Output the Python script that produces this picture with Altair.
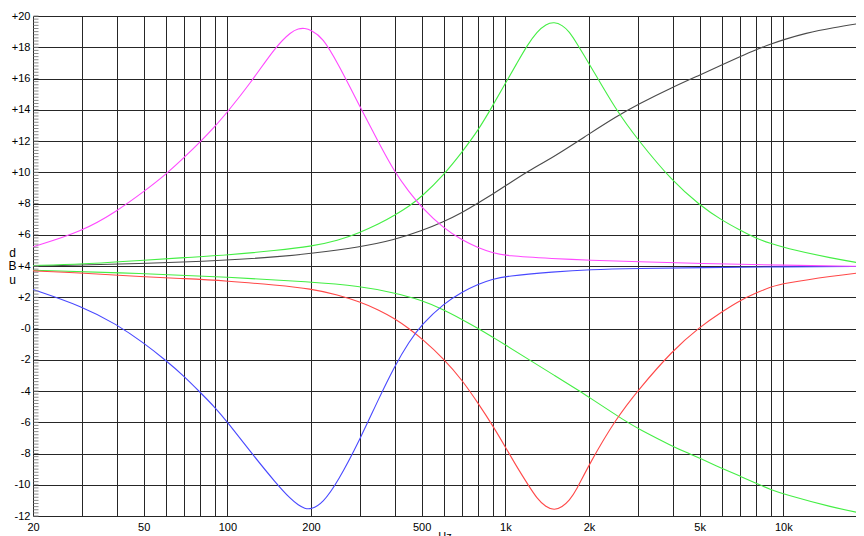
import altair as alt
import pandas as pd

# ---- curve readings (frequency in Hz, level in dBu) ----
MAGENTA_F = [20, 30, 40, 50, 60, 70, 80, 90, 100, 120, 150, 170, 180, 190, 200, 220, 250,
             300, 350, 400, 450, 500, 600, 700, 800, 900, 1000, 1500, 2000, 3000, 5000,
             10000, 20000]
MAGENTA_V = [5.23, 6.2, 7.5, 8.75, 9.85, 10.95, 11.95, 12.9, 13.85, 15.6, 18.1, 19.0, 19.2,
             19.23, 19.1, 18.65, 16.97, 14.2, 11.9, 10.0, 8.75, 7.75, 6.4, 5.65, 5.15, 4.85,
             4.65, 4.47, 4.37, 4.27, 4.16, 4.05, 3.97]

BLUE_F = MAGENTA_F
BLUE_V = [2.5, 1.43, 0.27, -0.92, -2.03, -3.06, -4.1, -5.02, -5.98, -7.8, -9.93, -10.96,
          -11.3, -11.53, -11.58, -11.2, -9.8, -7.1, -4.5, -2.4, -0.85, 0.25, 1.6, 2.34, 2.85,
          3.15, 3.35, 3.63, 3.77, 3.84, 3.9, 3.95, 3.97]

GREEN_PEAK_F = [20, 30, 50, 70, 100, 150, 200, 250, 300, 350, 400, 450, 500, 600, 700, 800,
                900, 1000, 1100, 1200, 1300, 1400, 1500, 1600, 1700, 1800, 2000, 2500, 3000,
                4000, 5000, 6000, 7000, 8000, 9000, 10000, 15000, 20000]
GREEN_PEAK_V = [4.03, 4.12, 4.37, 4.54, 4.69, 5.0, 5.25, 5.62, 6.15, 6.68, 7.25, 7.82, 8.43,
                9.82, 11.31, 12.7, 14.25, 15.69, 16.97, 18.14, 19.0, 19.49, 19.62, 19.42,
                19.0, 18.3, 16.97, 13.98, 12.06, 9.39, 7.9, 6.93, 6.29, 5.76, 5.44, 5.18,
                4.48, 4.12]

RED_F = GREEN_PEAK_F
RED_V = [3.69, 3.56, 3.3, 3.2, 3.05, 2.77, 2.55, 2.15, 1.7, 1.2, 0.63, 0.0, -0.64, -1.92,
         -3.31, -4.81, -6.2, -7.58, -8.86, -9.93, -10.89, -11.43, -11.64, -11.43, -11.0,
         -10.36, -8.7, -5.77, -3.95, -1.39, 0.1, 1.06, 1.81, 2.28, 2.66, 2.88, 3.37, 3.62]

BLACK_F = [20, 50, 100, 150, 200, 300, 400, 500, 600, 700, 800, 900, 1000, 1186, 1500,
           2000, 2500, 3000, 4000, 5000, 6000, 7000, 8000, 9000, 10000, 12000, 15000, 20000]
BLACK_V = [3.99, 4.15, 4.37, 4.58, 4.8, 5.2, 5.68, 6.25, 6.83, 7.42, 8.04, 8.6, 9.12, 10.0,
           11.0, 12.45, 13.55, 14.35, 15.45, 16.22, 16.86, 17.4, 17.85, 18.2, 18.48, 18.9,
           19.25, 19.6]

GREEN_SHELF_F = [20, 50, 100, 200, 300, 400, 500, 600, 700, 800, 900, 1000, 1218, 1500,
                 1850, 2000, 2740, 3000, 4000, 4570, 5000, 6000, 7000, 8170, 9000, 10000,
                 15000, 20000]
GREEN_SHELF_V = [3.73, 3.52, 3.3, 2.98, 2.71, 2.28, 1.81, 1.21, 0.57, 0.0, -0.55, -1.05,
                 -2.0, -3.0, -4.0, -4.4, -6.0, -6.4, -7.55, -8.0, -8.3, -8.95, -9.45, -10.0,
                 -10.3, -10.6, -11.45, -11.9]

SERIES_NAMES = ["black", "green_shelf", "red", "blue", "green_peak", "magenta"]
SERIES_F = [BLACK_F, GREEN_SHELF_F, RED_F, BLUE_F, GREEN_PEAK_F, MAGENTA_F]
SERIES_V = [BLACK_V, GREEN_SHELF_V, RED_V, BLUE_V, GREEN_PEAK_V, MAGENTA_V]
SERIES_COLORS = ["#4a4a4a", "#44ee44", "#ff4848", "#4848ff", "#44ee44", "#ff48ff"]

# ---- axes ----
X_MIN, X_MAX = 20, 18250          # visible part of the 20 Hz .. 20 kHz axis
GRID_X = [20, 30, 40, 50, 60, 70, 80, 90, 100, 200, 300, 400, 500, 600, 700, 800, 900,
          1000, 2000, 3000, 4000, 5000, 6000, 7000, 8000, 9000, 10000]
LABEL_X = [20, 50, 100, 200, 500, 1000, 2000, 5000, 10000, 20000]
Y_MIN, Y_MAX = -12, 20
Y_MAJOR = list(range(-12, 21, 2))
Y_MINOR = [round(-12 + 0.2 * i, 1) for i in range(161)]   # minor ticks every 0.2 dB

rows = []
for name, fs, vs in zip(SERIES_NAMES, SERIES_F, SERIES_V):
    for f, v in zip(fs, vs):
        rows.append({"series": name, "freq": f, "db": v})
df = pd.DataFrame(rows)
minor_df = pd.DataFrame({"db": Y_MINOR})

label_list = "[" + ",".join(str(v) for v in LABEL_X) + "]"
x_label_expr = (
    f"indexof({label_list}, datum.value) >= 0 ? "
    "(datum.value >= 1000 ? (datum.value / 1000) + 'k' : '' + datum.value) : ''"
)
y_label_expr = "datum.value > 0 ? '+' + datum.value : '-' + abs(datum.value)"

FONT = "Liberation Sans"
GRID_COLOR = "#262626"

x_scale = alt.Scale(type="log", domain=[X_MIN, X_MAX], nice=False)
y_scale = alt.Scale(domain=[Y_MIN, Y_MAX], nice=False, zero=False)

x_axis = alt.Axis(
    values=GRID_X, labelExpr=x_label_expr, grid=True, gridColor=GRID_COLOR,
    gridWidth=1, gridOpacity=1, ticks=False, tickSize=0, domain=False,
    labelOverlap=False, labelFlush=False, labelPadding=5, labelFont=FONT,
    labelFontSize=11, labelColor="#000000", title="Hz", titleFont=FONT,
    titleFontSize=11, titleFontWeight="normal", titleColor="#000000",
    titlePadding=-2,
)

y_axis = alt.Axis(
    orient="left", values=Y_MAJOR, ticks=False, tickSize=0,
    grid=True, gridColor=GRID_COLOR, gridWidth=1, gridOpacity=1,
    domain=False, labelExpr=y_label_expr, labelPadding=3, labelFont=FONT,
    labelFontSize=11, labelColor="#000000", labelOverlap=False, labelFlush=False,
    labelBaseline="middle",
    title=["d", "B", "u"], titleAngle=0, titleAlign="center",
    titleBaseline="middle", titleX=-21, titleY=236, titleFont=FONT,
    titleFontSize=12, titleLineHeight=13.5, titleFontWeight="normal",
    titleColor="#000000",
)

color_enc = alt.Color(
    "series:N",
    scale=alt.Scale(domain=SERIES_NAMES, range=SERIES_COLORS),
    legend=None,
)

lines = (
    alt.Chart(df)
    .mark_line(strokeWidth=1.1, interpolate="basis", clip=True)
    .encode(
        x=alt.X("freq:Q", scale=x_scale, axis=x_axis),
        y=alt.Y("db:Q", scale=y_scale, axis=y_axis),
        color=color_enc, detail="series:N",
        order=alt.Order("freq:Q"),
    )
)

# minor ticks on the inside of the left edge (at 20 Hz)
minor_ticks = (
    alt.Chart(minor_df)
    .mark_tick(orient="horizontal", size=5, thickness=1, color="#8a8a8a",
               opacity=1, xOffset=3)
    .encode(
        x=alt.XDatum(X_MIN, type="quantitative", scale=x_scale, axis=x_axis),
        y=alt.Y("db:Q", scale=y_scale, axis=y_axis),
    )
)

chart = (
    alt.layer(lines, minor_ticks)
    .properties(
        width=823, height=500,
        autosize=alt.AutoSizeParams(type="none"),
        padding={"left": 25, "top": 8, "right": 0, "bottom": 40},
        background="#ffffff",
    )
    .configure_view(stroke="transparent", strokeWidth=0)
)

chart.save("out.html", embed_options={"renderer": "svg", "actions": False})
